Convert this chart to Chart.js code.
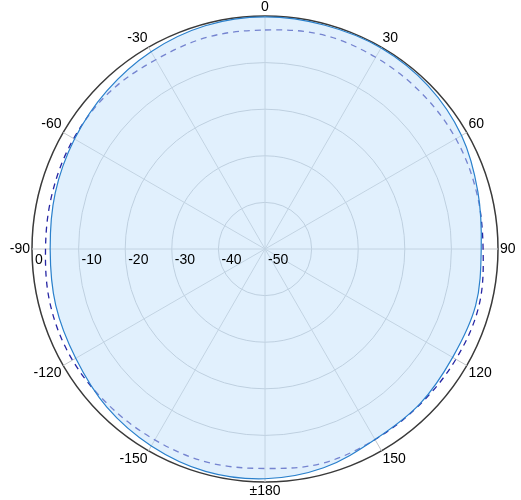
<!DOCTYPE html>
<html lang="en">
<head>
    <meta charset="UTF-8">
    <title>Polar Pattern</title>
    <script src="https://cdn.jsdelivr.net/npm/chart.js"></script>
    <style>
        body { margin: 0; background: #fff; }
        #wrap { width: 521px; height: 500px; }
    </style>
</head>
<body>
    <div id="wrap"><canvas id="polarChart" width="521" height="500"></canvas></div>

    <script>
        // angles in degrees, clockwise from top
        const angles = [0, 15, 30, 45, 60, 75, 90, 105, 120, 135, 150, 165,
                        180, 195, 210, 225, 240, 255, 270, 285, 300, 315, 330, 345];
        // solid (filled) trace, dB
        const solidValues = [-0.2, -0.3, -0.2, -0.5, -1.3, -2.7, -3.6, -3.2, -3.5, -3.0, -2.8, -1.4,
                             -0.7, -0.6, -1.2, -2.0, -3.1, -3.5, -3.9, -3.4, -2.8, -2.0, -1.1, -0.4];
        // dashed trace, dB
        const dashedValues = [-3.0, -2.4, -2.5, -2.6, -2.7, -3.0, -3.2, -2.5, -2.7, -2.9, -2.8, -2.4,
                              -2.9, -2.6, -2.7, -2.6, -2.3, -2.4, -2.9, -2.8, -2.6, -2.6, -3.1, -2.9];
        // radial ticks
        const radialTicks = [0, -10, -20, -30, -40, -50];

        function angleLabel(a) {
            if (a % 30 !== 0) return '';
            if (a === 180) return '\u00b1180';
            return String(a > 180 ? a - 360 : a);
        }

        // radial tick labels along the left horizontal axis
        const tickLabelPlugin = {
            id: 'tickLabels',
            afterDraw(chart) {
                const r = chart.scales.r;
                const ctx = chart.ctx;
                ctx.save();
                ctx.font = '14px "Liberation Sans", Arial, sans-serif';
                ctx.fillStyle = '#000';
                ctx.textAlign = 'left';
                ctx.textBaseline = 'top';
                radialTicks.forEach(v => {
                    const d = r.getDistanceFromCenterForValue(v);
                    ctx.fillText(String(v), r.xCenter - d + 3, r.yCenter + 4);
                });
                ctx.restore();
            }
        };

        new Chart(document.getElementById('polarChart'), {
            type: 'radar',
            data: {
                labels: angles,
                datasets: [{
                    data: solidValues,
                    borderColor: '#2a80cc',
                    borderWidth: 1.2,
                    backgroundColor: 'rgba(196, 226, 252, 0.5)',
                    fill: 'start',
                    pointRadius: 0,
                    tension: 0.35
                }, {
                    data: dashedValues,
                    borderColor: '#2626a4',
                    borderWidth: 1.3,
                    borderDash: [6, 5],
                    fill: false,
                    pointRadius: 0,
                    tension: 0.35
                }]
            },
            options: {
                responsive: false,
                animation: false,
                layout: { padding: { left: 6, right: 0, top: 0, bottom: 2 } },
                plugins: {
                    legend: { display: false },
                    tooltip: { enabled: false }
                },
                scales: {
                    r: {
                        min: -50,
                        max: 0,
                        ticks: { display: false, stepSize: 10 },
                        grid: {
                            circular: true,
                            color: c => c.tick && c.tick.value === 0 ? '#3a3a3a' : '#b9bec4',
                            lineWidth: c => c.tick && c.tick.value === 0 ? 1.5 : 1
                        },
                        angleLines: {
                            color: '#c2c6ca',
                            lineWidth: c => angles[c.index] % 30 === 0 ? 1 : 0
                        },
                        pointLabels: {
                            padding: 2,
                            color: '#000',
                            font: { size: 14, family: '"Liberation Sans", Arial, sans-serif', lineHeight: 1 },
                            callback: (label) => angleLabel(label)
                        }
                    }
                }
            },
            plugins: [tickLabelPlugin]
        });
    </script>
</body>
</html>
